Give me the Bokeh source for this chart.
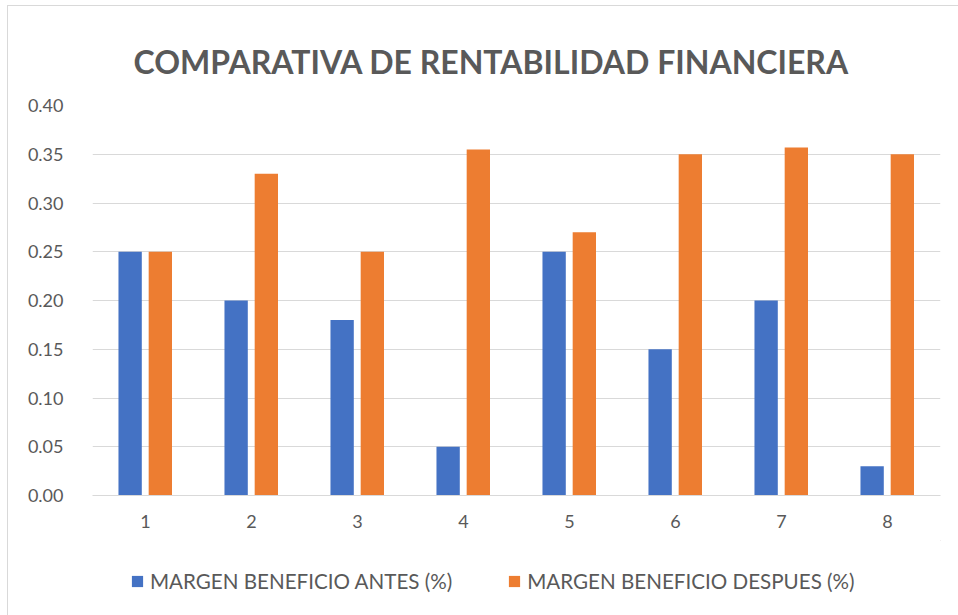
from bokeh.plotting import figure
from bokeh.layouts import column
from bokeh.models import ColumnDataSource, FactorRange, Legend, LegendItem, NumeralTickFormatter
from bokeh.transform import dodge
from bokeh.embed import file_html
from bokeh.resources import INLINE

categories = ["1", "2", "3", "4", "5", "6", "7", "8"]
antes = [0.25, 0.20, 0.18, 0.05, 0.25, 0.15, 0.20, 0.03]
despues = [0.25, 0.33, 0.25, 0.355, 0.27, 0.35, 0.357, 0.35]
y_ticks = [0.0, 0.05, 0.10, 0.15, 0.20, 0.25, 0.30, 0.35, 0.40]
series_names = ["MARGEN BENEFICIO ANTES (%)", "MARGEN BENEFICIO DESPUES (%)"]
title_text = "COMPARATIVA DE RENTABILIDAD FINANCIERA"

BLUE = "#4472C4"
ORANGE = "#ED7D31"
GRAY = "#595959"
GRID = "#D9D9D9"
FONT = "Lato"

src = ColumnDataSource(dict(cat=categories, antes=antes, despues=despues))

p = figure(
    x_range=FactorRange(factors=categories, range_padding=0),
    y_range=(0, 0.40),
    width=950, height=534,
    output_backend="svg", toolbar_location=None,
    min_border_left=84, min_border_right=18, min_border_top=99, min_border_bottom=45,
    title=title_text,
)
p.x_range.range_padding = 0

r1 = p.vbar(x=dodge("cat", -0.145, range=p.x_range), top="antes", width=0.22,
            source=src, fill_color=BLUE, line_color=None)
r2 = p.vbar(x=dodge("cat", 0.14, range=p.x_range), top="despues", width=0.22,
            source=src, fill_color=ORANGE, line_color=None)

p.title.align = "left"
p.title.offset = 41
p.title.text_font = FONT
p.title.text_font_style = "bold"
p.title.text_font_size = "32px"
p.title.text_color = GRAY
p.title.standoff = 50

p.outline_line_color = None
p.background_fill_color = "white"
p.border_fill_color = "white"

p.yaxis.ticker = y_ticks
p.yaxis.formatter = NumeralTickFormatter(format="0.00")
p.yaxis.axis_line_color = None
p.yaxis.major_tick_line_color = None
p.yaxis.minor_tick_line_color = None
p.yaxis.major_label_text_font = FONT
p.yaxis.major_label_text_font_size = "18px"
p.yaxis.major_label_text_color = GRAY
p.yaxis.major_label_standoff = 23

p.xaxis.axis_line_color = GRID
p.xaxis.major_tick_line_color = None
p.xaxis.minor_tick_line_color = None
p.xaxis.major_label_text_font = FONT
p.xaxis.major_label_text_font_size = "18px"
p.xaxis.major_label_text_color = GRAY
p.xaxis.major_label_standoff = 13

p.xgrid.grid_line_color = None
p.ygrid.grid_line_color = GRID
p.ygrid.ticker = y_ticks

# legend strip below the chart (swatch renderers sit outside the visible range)
lf = figure(
    width=950, height=75, output_backend="svg", toolbar_location=None,
    x_axis_location=None, y_axis_location=None,
    min_border=0, min_border_left=0, min_border_right=0, min_border_top=0, min_border_bottom=0,
    x_range=(0, 1), y_range=(0, 1),
)
lf.outline_line_color = None
lf.grid.grid_line_color = None
lf.background_fill_color = "white"
lf.border_fill_color = "white"
d1 = lf.vbar(x=[5], top=[5], bottom=[4], width=0.1, fill_color=BLUE, line_color=None)
d2 = lf.vbar(x=[5], top=[5], bottom=[4], width=0.1, fill_color=ORANGE, line_color=None)

legend = Legend(
    items=[LegendItem(label=series_names[0], renderers=[d1]),
           LegendItem(label=series_names[1], renderers=[d2])],
    location=(38, 22), orientation="horizontal",
    glyph_width=14, glyph_height=14, label_standoff=6, spacing=55,
    label_text_font=FONT, label_text_font_size="20.6px", label_text_color=GRAY,
    border_line_color=None, background_fill_alpha=0, padding=5, margin=0,
)
lf.add_layout(legend, "center")

layout = column(p, lf, spacing=0)
layout.styles = {"margin-left": "8px", "margin-top": "6px", "outline": "1px solid #D9D9D9"}

open("out.html", "w").write(file_html(layout, INLINE))
